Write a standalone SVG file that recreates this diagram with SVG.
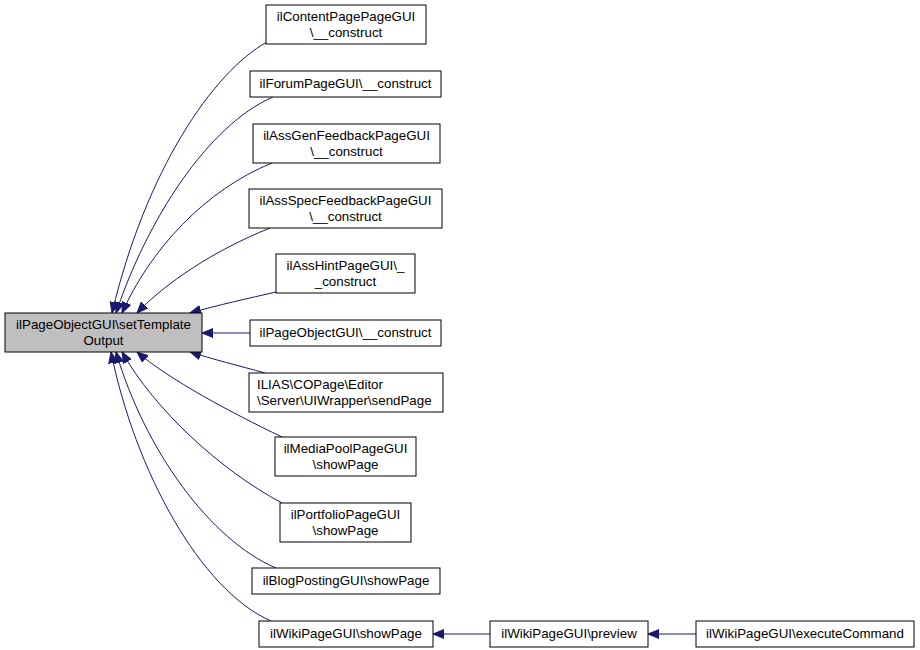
<svg xmlns="http://www.w3.org/2000/svg" width="920" height="650" viewBox="0 0 920 650">
<style>
.n rect{fill:#fff;stroke:#000;stroke-width:1}
.m rect{fill:#bfbfbf;stroke:#000;stroke-width:1}
text{font-family:"Liberation Sans",Arial,Helvetica,sans-serif;font-size:13.33px;fill:#000;text-anchor:middle}
.e path{fill:none;stroke:#191970;stroke-width:1}
</style>
<defs>
<marker id="ah" markerUnits="userSpaceOnUse" markerWidth="12" markerHeight="10" refX="11" refY="5" orient="auto">
<path d="M0,0.5 L11,5 L0,9.5 z" fill="#191970" stroke="#191970" stroke-width="1"/>
</marker>
</defs>
<rect width="920" height="650" fill="#fff"/>
<g id="edges" class="e">
<path d="M267,42 C213,72 146,170 112,313" marker-end="url(#ah)"/>
<path d="M273,97 C208,125 147,220 116,313" marker-end="url(#ah)"/>
<path d="M272,163 C205,190 150,250 122,313" marker-end="url(#ah)"/>
<path d="M270,228 C215,250 165,283 137,313" marker-end="url(#ah)"/>
<path d="M276,292 C250,298 218,305 190,313" marker-end="url(#ah)"/>
<path d="M250,333 L202,333" marker-end="url(#ah)"/>
<path d="M265,373 C240,366 212,359 190,352" marker-end="url(#ah)"/>
<path d="M282,437 C230,412 170,380 137,352" marker-end="url(#ah)"/>
<path d="M282,503 C220,470 155,410 122,352" marker-end="url(#ah)"/>
<path d="M276,568 C210,540 145,450 116,352" marker-end="url(#ah)"/>
<path d="M271,621 C200,590 135,470 111,352" marker-end="url(#ah)"/>
<path d="M490,634 L433,634" marker-end="url(#ah)"/>
<path d="M696,634 L648,634" marker-end="url(#ah)"/>
</g>
<g id="main" class="m"><rect x="5" y="313" width="197" height="39"/><text x="103.5" y="329">ilPageObjectGUI\setTemplate</text><text x="103.5" y="345">Output</text></g>
<g id="n1" class="n"><rect x="266" y="5" width="160" height="39"/><text x="346" y="21">ilContentPagePageGUI</text><text x="346" y="37">\__construct</text></g>
<g id="n2" class="n"><rect x="250" y="71" width="191" height="26"/><text x="345.5" y="88">ilForumPageGUI\__construct</text></g>
<g id="n3" class="n"><rect x="253" y="124" width="187" height="39"/><text x="346.5" y="140">ilAssGenFeedbackPageGUI</text><text x="346.5" y="156">\__construct</text></g>
<g id="n4" class="n"><rect x="249" y="189" width="193" height="39"/><text x="345.5" y="205">ilAssSpecFeedbackPageGUI</text><text x="345.5" y="221">\__construct</text></g>
<g id="n5" class="n"><rect x="276" y="254" width="139" height="39"/><text x="345.5" y="270">ilAssHintPageGUI\_</text><text x="345.5" y="286">_construct</text></g>
<g id="n6" class="n"><rect x="250" y="320" width="191" height="26"/><text x="345.5" y="337">ilPageObjectGUI\__construct</text></g>
<g id="n7" class="n"><rect x="249" y="373" width="194" height="39"/><text x="257" y="389" style="text-anchor:start">ILIAS\COPage\Editor</text><text x="257" y="405" style="text-anchor:start">\Server\UIWrapper\sendPage</text></g>
<g id="n8" class="n"><rect x="275" y="437" width="141" height="39"/><text x="345.5" y="453">ilMediaPoolPageGUI</text><text x="345.5" y="469">\showPage</text></g>
<g id="n9" class="n"><rect x="280" y="503" width="131" height="39"/><text x="345.5" y="519">ilPortfolioPageGUI</text><text x="345.5" y="535">\showPage</text></g>
<g id="n10" class="n"><rect x="252" y="568" width="188" height="26"/><text x="346" y="585">ilBlogPostingGUI\showPage</text></g>
<g id="n11" class="n"><rect x="259" y="621" width="174" height="26"/><text x="346" y="638">ilWikiPageGUI\showPage</text></g>
<g id="n12" class="n"><rect x="490" y="621" width="158" height="26"/><text x="569" y="638">ilWikiPageGUI\preview</text></g>
<g id="n13" class="n"><rect x="696" y="621" width="218" height="26"/><text x="805" y="638">ilWikiPageGUI\executeCommand</text></g>
</svg>
